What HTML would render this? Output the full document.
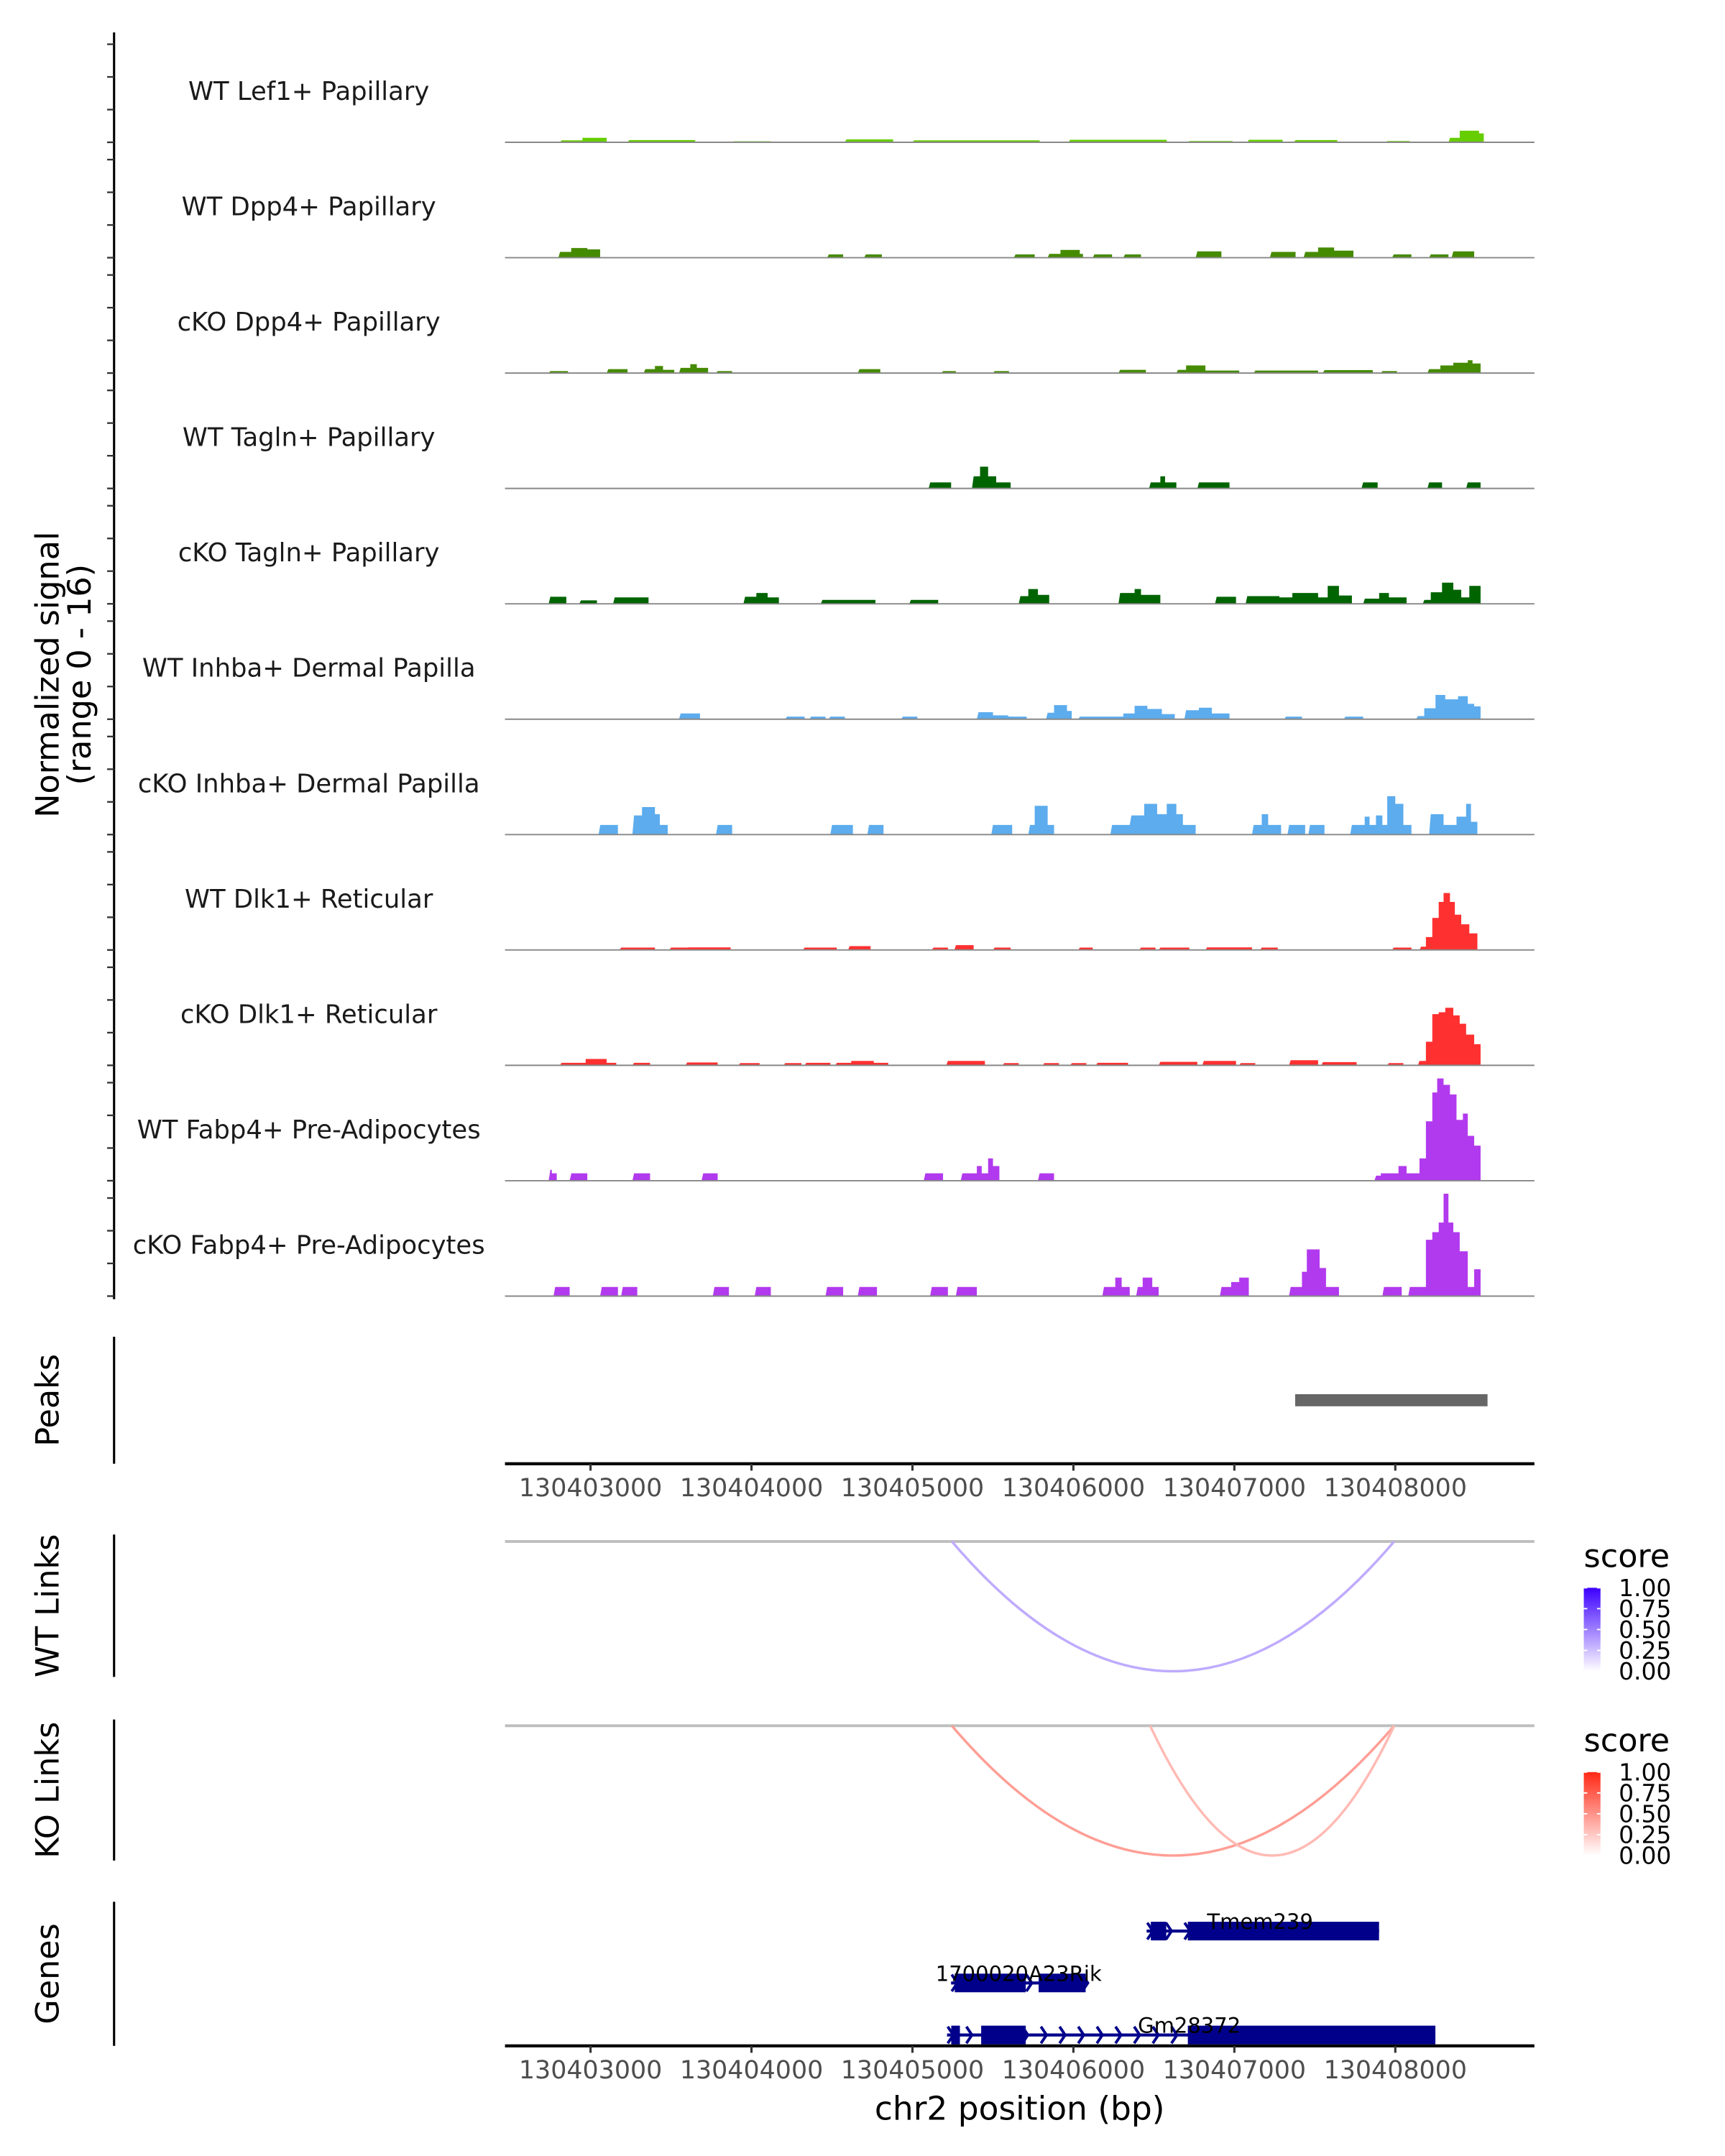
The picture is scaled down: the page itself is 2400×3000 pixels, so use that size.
<!DOCTYPE html>
<html><head><meta charset="utf-8"><style>
html,body{margin:0;padding:0;background:#fff}
svg{display:block}
text{font-family:"DejaVu Sans","Liberation Sans",sans-serif}
</style></head><body>
<svg id="chart" width="2400" height="3000" viewBox="0 0 1240 1550" xmlns="http://www.w3.org/2000/svg">
<g id="g-tracks"></g>
<g id="g-axes"></g>
<g id="g-links"></g>
<g id="g-genes"></g>
</svg>
<script>
// ---- data (positions in kb from chr2:130,400,000; signal 0-16) ----
const trackNames = ["WT Lef1+ Papillary","WT Dpp4+ Papillary","cKO Dpp4+ Papillary","WT Tagln+ Papillary","cKO Tagln+ Papillary","WT Inhba+ Dermal Papilla","cKO Inhba+ Dermal Papilla","WT Dlk1+ Reticular","cKO Dlk1+ Reticular","WT Fabp4+ Pre-Adipocytes","cKO Fabp4+ Pre-Adipocytes"];
const trackColors = ["#66cd00","#458b00","#458b00","#006400","#006400","#5cacee","#5cacee","#ff3030","#ff3030","#b23aee","#b23aee"];
const sigLef1WT = [[2.81,2.95,0.3],[2.95,3.10,0.7],[3.23,3.65,0.35],[3.88,4.12,0.15],[4.58,4.88,0.45],[5.00,5.79,0.3],[5.97,6.58,0.4],[6.71,6.99,0.2],[7.08,7.30,0.4],[7.37,7.64,0.35],[7.94,8.09,0.2],[8.33,8.40,0.7],[8.40,8.52,1.8],[8.52,8.55,1.4]];
const sigDpp4WT = [[2.80,2.88,0.9],[2.88,2.98,1.5],[2.98,3.06,1.3],[4.47,4.57,0.5],[4.70,4.81,0.5],[5.63,5.76,0.5],[5.84,5.92,0.6],[5.92,6.04,1.2],[6.04,6.06,0.6],[6.12,6.24,0.5],[6.31,6.42,0.5],[6.76,6.92,1.0],[7.22,7.38,0.9],[7.43,7.52,0.9],[7.52,7.62,1.6],[7.62,7.74,1.1],[7.98,8.10,0.5],[8.21,8.33,0.5],[8.35,8.49,1.0]];
const sigDpp4KO = [[2.74,2.86,0.3],[3.10,3.23,0.6],[3.33,3.40,0.6],[3.40,3.45,1.1],[3.45,3.52,0.5],[3.55,3.62,0.8],[3.62,3.66,1.4],[3.66,3.73,0.8],[3.78,3.88,0.3],[4.66,4.80,0.6],[5.18,5.27,0.3],[5.50,5.60,0.3],[6.28,6.45,0.5],[6.64,6.70,0.5],[6.70,6.82,1.2],[6.82,7.03,0.4],[7.12,7.52,0.4],[7.55,7.86,0.45],[7.91,8.01,0.3],[8.20,8.28,0.6],[8.28,8.36,1.2],[8.36,8.45,1.6],[8.45,8.48,2.0],[8.48,8.53,1.5]];
const sigTaglnWT = [[5.10,5.24,0.95],[5.37,5.42,1.9],[5.42,5.47,3.4],[5.47,5.52,1.9],[5.52,5.61,0.95],[6.47,6.54,0.95],[6.54,6.57,1.9],[6.57,6.64,0.95],[6.77,6.97,0.95],[7.79,7.89,0.95],[8.20,8.29,0.95],[8.44,8.53,0.95]];
const sigTaglnKO = [[2.74,2.85,1.1],[2.93,3.04,0.55],[3.14,3.36,1.0],[3.95,4.03,1.1],[4.03,4.10,1.7],[4.10,4.17,1.0],[4.43,4.77,0.6],[4.98,5.16,0.6],[5.66,5.72,1.2],[5.72,5.78,2.3],[5.78,5.85,1.4],[6.28,6.38,1.7],[6.38,6.42,2.3],[6.42,6.54,1.4],[6.88,7.01,1.1],[7.07,7.28,1.2],[7.28,7.36,1.0],[7.36,7.52,1.7],[7.52,7.58,1.0],[7.58,7.65,2.8],[7.65,7.73,1.3],[7.80,7.90,0.8],[7.90,7.96,1.7],[7.96,8.07,1.0],[8.17,8.22,0.6],[8.22,8.29,1.8],[8.29,8.36,3.3],[8.36,8.41,2.2],[8.41,8.46,1.0],[8.46,8.53,2.8]];
const sigInhbaWT = [[3.55,3.68,0.9],[4.21,4.33,0.4],[4.36,4.46,0.4],[4.48,4.58,0.4],[4.93,5.03,0.4],[5.40,5.50,1.1],[5.50,5.59,0.6],[5.60,5.71,0.4],[5.83,5.88,1.0],[5.88,5.96,2.2],[5.96,5.99,1.3],[6.03,6.31,0.4],[6.31,6.38,0.9],[6.38,6.46,2.1],[6.46,6.55,1.6],[6.55,6.63,0.8],[6.69,6.78,1.4],[6.78,6.86,1.8],[6.86,6.97,0.9],[7.31,7.42,0.4],[7.68,7.80,0.4],[8.13,8.18,0.5],[8.18,8.25,1.7],[8.25,8.31,3.8],[8.31,8.39,3.1],[8.39,8.45,3.6],[8.45,8.49,2.4],[8.49,8.53,2.0]];
const sigInhbaKO = [[3.05,3.17,1.5],[3.26,3.32,3.0],[3.32,3.40,4.3],[3.40,3.43,3.2],[3.43,3.48,1.5],[3.78,3.88,1.5],[4.49,4.63,1.5],[4.72,4.82,1.5],[5.49,5.62,1.5],[5.72,5.76,1.5],[5.76,5.84,4.5],[5.84,5.88,1.5],[6.23,6.35,1.5],[6.36,6.44,3.0],[6.44,6.52,4.8],[6.52,6.58,3.2],[6.58,6.64,4.8],[6.64,6.68,3.2],[6.68,6.76,1.5],[7.11,7.17,1.5],[7.17,7.21,3.2],[7.21,7.29,1.5],[7.33,7.44,1.5],[7.46,7.56,1.5],[7.72,7.81,1.5],[7.81,7.84,2.8],[7.84,7.88,1.5],[7.88,7.92,3.0],[7.92,7.95,1.5],[7.95,8.00,6.0],[8.00,8.05,4.8],[8.05,8.10,1.5],[8.21,8.30,3.2],[8.30,8.38,1.5],[8.38,8.44,2.8],[8.44,8.47,4.8],[8.47,8.51,2.0]];
const sigDlk1WT = [[3.18,3.40,0.37],[3.49,3.60,0.37],[3.61,3.87,0.4],[4.32,4.53,0.37],[4.60,4.74,0.6],[5.12,5.22,0.37],[5.26,5.38,0.74],[5.50,5.61,0.37],[6.03,6.12,0.37],[6.41,6.51,0.37],[6.53,6.72,0.37],[6.82,7.11,0.4],[7.16,7.27,0.37],[7.98,8.10,0.37],[8.15,8.19,0.5],[8.19,8.23,2.0],[8.23,8.27,5.0],[8.27,8.30,7.5],[8.30,8.34,8.9],[8.34,8.37,7.5],[8.37,8.41,5.5],[8.41,8.46,4.0],[8.46,8.51,2.6]];
const sigDlk1KO = [[2.81,2.97,0.4],[2.97,3.10,1.0],[3.10,3.16,0.4],[3.26,3.37,0.4],[3.59,3.79,0.45],[3.92,4.05,0.35],[4.20,4.31,0.35],[4.33,4.49,0.4],[4.52,4.62,0.4],[4.62,4.76,0.7],[4.76,4.85,0.4],[5.21,5.45,0.7],[5.56,5.66,0.35],[5.81,5.91,0.35],[5.98,6.08,0.35],[6.14,6.34,0.4],[6.53,6.77,0.55],[6.80,7.01,0.7],[7.03,7.13,0.35],[7.34,7.52,0.8],[7.54,7.76,0.5],[7.95,8.05,0.35],[8.14,8.19,0.7],[8.19,8.23,3.7],[8.23,8.27,8.0],[8.27,8.31,8.3],[8.31,8.36,9.0],[8.36,8.40,7.8],[8.40,8.44,6.5],[8.44,8.49,4.8],[8.49,8.53,3.3]];
const sigFabp4WT = [[2.74,2.76,1.7],[2.76,2.79,1.17],[2.87,2.98,1.17],[3.26,3.37,1.17],[3.69,3.79,1.17],[5.07,5.19,1.17],[5.30,5.40,1.17],[5.40,5.43,2.3],[5.43,5.47,1.17],[5.47,5.50,3.5],[5.50,5.54,2.3],[5.78,5.88,1.17],[7.87,7.91,0.8],[7.91,8.02,1.17],[8.02,8.07,2.3],[8.07,8.15,1.17],[8.15,8.19,3.5],[8.19,8.23,9.3],[8.23,8.26,13.8],[8.26,8.30,16],[8.30,8.34,15],[8.34,8.38,13.5],[8.38,8.42,9.5],[8.42,8.45,10.5],[8.45,8.49,7],[8.49,8.53,5.5]];
const sigFabp4KO = [[2.77,2.87,1.44],[3.06,3.17,1.44],[3.19,3.29,1.44],[3.76,3.86,1.44],[4.02,4.12,1.44],[4.46,4.57,1.44],[4.66,4.78,1.44],[5.11,5.22,1.44],[5.27,5.40,1.44],[6.18,6.26,1.44],[6.26,6.30,2.9],[6.30,6.35,1.44],[6.39,6.43,1.44],[6.43,6.49,2.9],[6.49,6.53,1.44],[6.91,6.98,1.44],[6.98,7.03,2.2],[7.03,7.09,2.9],[7.34,7.42,1.44],[7.42,7.45,3.8],[7.45,7.53,7.3],[7.53,7.57,4.4],[7.57,7.65,1.44],[7.92,8.04,1.44],[8.08,8.19,1.44],[8.19,8.23,8.8],[8.23,8.27,10],[8.27,8.30,11.5],[8.30,8.33,16],[8.33,8.36,11.5],[8.36,8.40,10],[8.40,8.45,7],[8.45,8.49,1.44],[8.49,8.53,4.2]];
const trackSignals = [sigLef1WT,sigDpp4WT,sigDpp4KO,sigTaglnWT,sigTaglnKO,sigInhbaWT,sigInhbaKO,sigDlk1WT,sigDlk1KO,sigFabp4WT,sigFabp4KO];
const peakStarts = [7.378];
const peakEnds = [8.573];
const xTickKb = [3,4,5,6,7,8];
const xTickLabels = ["130403000","130404000","130405000","130406000","130407000","130408000"];
const wtLinkStarts = [5.245];
const wtLinkEnds = [7.993];
const wtLinkScores = [0.33];
const koLinkStarts = [5.245, 6.477];
const koLinkEnds = [7.993, 7.993];
const koLinkScores = [0.45, 0.32];
const legendTicks = ["1.00","0.75","0.50","0.25","0.00"];
const geneNames = ["Tmem239","1700020A23Rik","Gm28372"];
const geneStarts = [6.455, 5.24, 5.215];
const geneEnds = [7.899, 6.081, 8.249];
const geneExons = [[[6.481,6.577],[6.711,7.899]], [[5.263,5.704],[5.784,6.076]], [[5.241,5.295],[5.427,5.704],[6.711,8.249]]];
const geneLabelKb = [7.16, 5.66, 6.72];

// ---- scales ----
const NS="http://www.w3.org/2000/svg";
const X0=363, X1=1103;
function X(kb){return 424.5+(kb-3)*115.7;}
const base0=102.3, trackStep=82.95, unitPx=4.6;
function mk(tag,attrs,parent,txt){const e=document.createElementNS(NS,tag);for(const k in attrs)e.setAttribute(k,attrs[k]);if(txt!==undefined)e.textContent=txt;parent.appendChild(e);return e;}
const gT=document.getElementById('g-tracks'), gA=document.getElementById('g-axes'), gL=document.getElementById('g-links'), gG=document.getElementById('g-genes');

// ---- coverage tracks ----
trackNames.forEach((nm,i)=>{
  const b=base0+i*trackStep;
  const g=mk('g',{},gT);
  
  
  const lab=mk('text',{x:222,y:b-30.5,'text-anchor':'middle','font-size':18.3,fill:'#1a1a1a'},g,nm);
  
  
  const segs=trackSignals[i];
  let d='';
  let k=0;
  while(k<segs.length){
    let j=k;
    while(j+1<segs.length && Math.abs(segs[j+1][0]-segs[j][1])<0.012) j++;
    const xs=X(segs[k][0]), xe=X(segs[j][1]);
    d+='M'+xs.toFixed(1)+','+b+' L'+(xs+1.2).toFixed(1)+','+(b-segs[k][2]*unitPx).toFixed(1);
    for(let m=k;m<=j;m++){
      const y=(b-segs[m][2]*unitPx).toFixed(1);
      d+=' L'+X(segs[m][0]).toFixed(1)+','+y+' L'+X(segs[m][1]).toFixed(1)+','+y;
    }
    d+=' L'+xe.toFixed(1)+','+b+' Z ';
    k=j+1;
  }
  const area=mk('path',{d:d,fill:trackColors[i],stroke:'none'},g);
  
  
  const bl=mk('line',{x1:X0,x2:X1,y1:b,y2:b,stroke:'#888',"stroke-width":1},g);
  
  
});

// ---- left y axis for tracks ----
const yAx=mk('line',{x1:82,x2:82,y1:23.3,y2:934,stroke:'#000','stroke-width':1.6},gA);


for(let i=0;i<trackNames.length;i++){
  const b=base0+i*trackStep;
  for(let t=0;t<4;t++){
    const y=b-t*23.5;
    const tk=mk('line',{x1:77,x2:82,y1:y,y2:y,stroke:'#333','stroke-width':1.2},gA);
    
    
  }
}
const yt=mk('text',{transform:'translate(42,485) rotate(-90)','text-anchor':'middle','font-size':23,fill:'#000'},gA);


mk('tspan',{x:0,dy:0},yt,'Normalized signal');
mk('tspan',{x:0,dy:23},yt,'(range 0 - 16)');

// ---- panel labels & axis lines ----
function panel(label,y1,y2,name){
  const l=mk('line',{x1:82,x2:82,y1:y1,y2:y2,stroke:'#000','stroke-width':1.6},gA);
  
  
  const t=mk('text',{transform:'translate(42,'+((y1+y2)/2)+') rotate(-90)','text-anchor':'middle','font-size':23,fill:'#000'},gA,label);
  
  
}
panel('Peaks',961,1052.3,'peaks');
panel('WT Links',1103.2,1205.6,'wt-links');
panel('KO Links',1236.2,1337.6,'ko-links');
panel('Genes',1367.2,1470.8,'genes');

// peaks
peakStarts.forEach((s,i)=>{
  const r=mk('rect',{x:X(s),y:1002.3,width:X(peakEnds[i])-X(s),height:8.7,fill:'#666'},gA);
  
  
});

// x axes
function xAxis(y,name){
  const l=mk('line',{x1:X0,x2:X1,y1:y,y2:y,stroke:'#000','stroke-width':2.2},gA);
  
  
  xTickKb.forEach((kb,i)=>{
    const tk=mk('line',{x1:X(kb),x2:X(kb),y1:y,y2:y+5,stroke:'#333','stroke-width':1.6},gA);
    
    
    const tl=mk('text',{x:X(kb),y:y+23.5,'text-anchor':'middle','font-size':18,fill:'#4d4d4d'},gA,xTickLabels[i]);
    
    
  });
}
xAxis(1052.3,'peaks-x-axis');
xAxis(1470.8,'genes-x-axis');
const xt=mk('text',{x:733,y:1524,'text-anchor':'middle','font-size':23.5,fill:'#000'},gA,'chr2 position (bp)');



// ---- links ----
function mix(c,s){return 'rgb('+c.map(v=>Math.round(255+(v-255)*s)).join(',')+')';}
function linksPanel(y0,starts,ends,scores,col,name,gradId){
  const gl=mk('line',{x1:X0,x2:X1,y1:y0,y2:y0,stroke:'#bebebe','stroke-width':2},gL);
  
  
  starts.forEach((s,i)=>{
    const xa=X(s), xb=X(ends[i]), depth=93.3;
    const p=mk('path',{d:'M'+xa+','+y0+' Q'+((xa+xb)/2)+','+(y0+2*depth)+' '+xb+','+y0,fill:'none',stroke:mix(col,scores[i]),'stroke-width':1.8},gL);
    
    
  });
  const lt=mk('text',{x:1138.5,y:y0+18.3,'font-size':23,fill:'#000'},gL,'score');
  
  
  const defs=mk('defs',{},gL);
  const lg=mk('linearGradient',{id:gradId,x1:0,y1:1,x2:0,y2:0},defs);
  mk('stop',{offset:0,'stop-color':'#ffffff'},lg);
  mk('stop',{offset:1,'stop-color':'rgb('+col.join(',')+')'},lg);
  const by=y0+33.3, bh=60;
  const bar=mk('rect',{x:1138.5,y:by,width:12,height:bh,fill:'url(#'+gradId+')'},gL);
  
  
  legendTicks.forEach((t,i)=>{
    const y=by+i*bh/4;
    mk('line',{x1:1138.5,x2:1141,y1:y,y2:y,stroke:'#fff','stroke-width':1},gL);
    mk('line',{x1:1148,x2:1150.5,y1:y,y2:y,stroke:'#fff','stroke-width':1},gL);
    const tl=mk('text',{x:1163.6,y:y+6,'font-size':17,fill:'#000'},gL,t);
    
    
  });
}
linksPanel(1108.2,wtLinkStarts,wtLinkEnds,wtLinkScores,[60,0,255],'wt-links','gradWT');
linksPanel(1240.7,koLinkStarts,koLinkEnds,koLinkScores,[255,40,20],'ko-links','gradKO');

// ---- genes ----
const geneRowY=[1388.3,1425.6,1463];
geneNames.forEach((nm,i)=>{
  const y=geneRowY[i];
  const g=mk('g',{},gG);
  
  
  mk('line',{x1:X(geneStarts[i]),x2:X(geneEnds[i]),y1:y,y2:y,stroke:'#00008b','stroke-width':2.2},g);
  for(let x=X(geneStarts[i])+3;x<X(geneEnds[i]);x+=13.4){
    mk('path',{d:'M'+(x-2.5)+','+(y-6)+' L'+(x+1.5)+','+y+' L'+(x-2.5)+','+(y+6),fill:'none',stroke:'#00008b','stroke-width':2},g);
  }
  geneExons[i].forEach(ex=>{
    const r=mk('rect',{x:X(ex[0]),y:y-6.7,width:X(ex[1])-X(ex[0]),height:13.4,fill:'#00008b'},g);
    
    
  });
  const t=mk('text',{x:X(geneLabelKb[i]),y:y-1.5,'text-anchor':'middle','font-size':15,fill:'#000'},g,nm);
  
  
});
</script>
</body></html>
